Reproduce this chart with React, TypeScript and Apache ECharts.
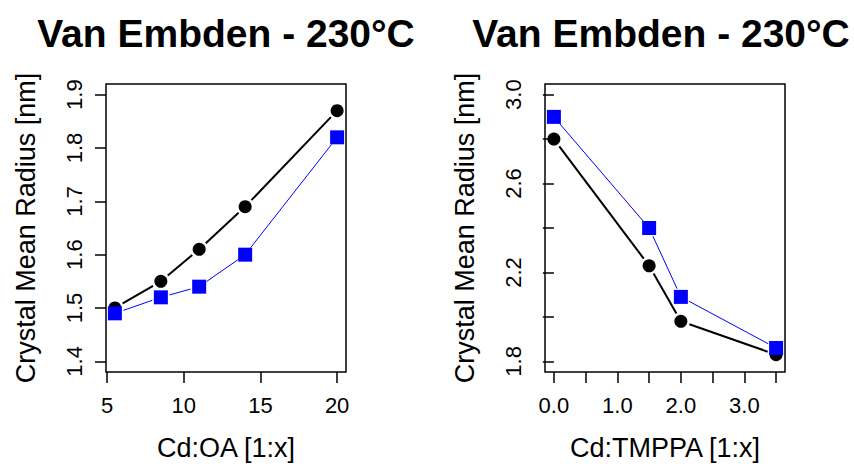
import React, { useEffect, useRef } from "react";
import * as echarts from "echarts";

const leftX = [5.5, 8.5, 11, 14, 20];
const leftBlack = [1.5, 1.55, 1.61, 1.69, 1.87];
const leftBlue = [1.49, 1.52, 1.54, 1.6, 1.82];

const rightX = [0, 1.5, 2.0, 3.5];
const rightBlack = [2.8, 2.23, 1.98, 1.83];
const rightBlue = [2.9, 2.4, 2.09, 1.86];

const leftXTicks = [5, 10, 15, 20];
const leftYTicks = [1.4, 1.5, 1.6, 1.7, 1.8, 1.9];
const rightXTicks = [0, 0.5, 1.0, 1.5, 2.0, 2.5, 3.0, 3.5];
const rightXLabels = [0, 1.0, 2.0, 3.0];
const rightYTicks = [1.8, 2.0, 2.2, 2.4, 2.6, 2.8, 3.0];
const rightYLabels = [1.8, 2.2, 2.6, 3.0];

const titleText = "Van Embden - 230°C";
const yName = "Crystal Mean Radius [nm]";
const leftXName = "Cd:OA [1:x]";
const rightXName = "Cd:TMPPA [1:x]";

const FONT = '"Liberation Sans", Arial, Helvetica, sans-serif';
const BLUE = "#0000ff";
const GAP = 9;

function pairs(xs: number[], ys: number[]) {
  return xs.map((x, i) => [x, ys[i]]);
}

function gapLine(xs: number[], ys: number[], color: string, width: number, idx: number, z: number) {
  return {
    type: "custom",
    xAxisIndex: idx,
    yAxisIndex: idx,
    z,
    silent: true,
    data: pairs(xs, ys),
    renderItem: (params: any, api: any) => {
      const i = params.dataIndex;
      if (i >= xs.length - 1) return null;
      const p0 = api.coord([xs[i], ys[i]]);
      const p1 = api.coord([xs[i + 1], ys[i + 1]]);
      const dx = p1[0] - p0[0];
      const dy = p1[1] - p0[1];
      const len = Math.sqrt(dx * dx + dy * dy);
      if (len <= 2 * GAP) return null;
      const ux = dx / len;
      const uy = dy / len;
      return {
        type: "line",
        shape: {
          x1: p0[0] + ux * GAP,
          y1: p0[1] + uy * GAP,
          x2: p1[0] - ux * GAP,
          y2: p1[1] - uy * GAP,
        },
        style: { stroke: color, lineWidth: width },
      };
    },
  };
}

function points(xs: number[], ys: number[], symbol: string, size: number, color: string, idx: number, z: number) {
  return {
    type: "scatter",
    xAxisIndex: idx,
    yAxisIndex: idx,
    z,
    symbol,
    symbolSize: size,
    itemStyle: { color, opacity: 1 },
    data: pairs(xs, ys),
  };
}

function xAxis(idx: number, min: number, max: number, ticks: number[], labels: number[], fmt: (v: number) => string, name: string) {
  return {
    type: "value",
    gridIndex: idx,
    min,
    max,
    splitLine: { show: false },
    axisLine: { show: false },
    axisTick: { show: true, length: 11, customValues: ticks, lineStyle: { color: "#000", width: 1.5 } },
    axisLabel: {
      customValues: labels,
      formatter: (v: number) => fmt(v),
      color: "#000",
      fontSize: 22,
      fontFamily: FONT,
      margin: 22,
    },
    name,
    nameLocation: "middle",
    nameGap: 62,
    nameTextStyle: { color: "#000", fontSize: 27, fontFamily: FONT },
  };
}

function yAxis(idx: number, min: number, max: number, ticks: number[], labels: number[], name: string) {
  return {
    type: "value",
    gridIndex: idx,
    min,
    max,
    splitLine: { show: false },
    axisLine: { show: false },
    axisTick: { show: true, length: 11, customValues: ticks, lineStyle: { color: "#000", width: 1.5 } },
    axisLabel: {
      customValues: labels,
      formatter: (v: number) => v.toFixed(1),
      color: "#000",
      fontSize: 22,
      fontFamily: FONT,
      rotate: 90,
      margin: 21,
    },
    name,
    nameLocation: "middle",
    nameGap: 67,
    nameTextStyle: { color: "#000", fontSize: 27, fontFamily: FONT },
  };
}

export default function App() {
  const ref = useRef<HTMLDivElement>(null);
  useEffect(() => {
    if (!ref.current) return;
    const chart = echarts.init(ref.current, null, { renderer: "svg" });
    chart.setOption({
      animation: false,
      backgroundColor: "#fff",
      grid: [
        { left: 106, right: 508, top: 84, bottom: 92, show: true, borderColor: "#000", borderWidth: 1.5, backgroundColor: "transparent" },
        { left: 545, right: 69, top: 84, bottom: 92, show: true, borderColor: "#000", borderWidth: 1.5, backgroundColor: "transparent" },
      ],
      xAxis: [
        xAxis(0, 4.92, 20.58, leftXTicks, leftXTicks, (v) => String(v), leftXName),
        xAxis(1, -0.14, 3.64, rightXTicks, rightXLabels, (v) => v.toFixed(1), rightXName),
      ],
      yAxis: [
        yAxis(0, 1.38, 1.92, leftYTicks, leftYTicks, yName),
        yAxis(1, 1.752, 3.048, rightYTicks, rightYLabels, yName),
      ],
      graphic: [
        {
          type: "text",
          x: 226,
          y: 14,
          style: { text: titleText, font: `bold 39px ${FONT}`, fill: "#000", textAlign: "center", textVerticalAlign: "top" },
        },
        {
          type: "text",
          x: 661,
          y: 14,
          style: { text: titleText, font: `bold 39px ${FONT}`, fill: "#000", textAlign: "center", textVerticalAlign: "top" },
        },
      ],
      series: [
        gapLine(leftX, leftBlack, "#000", 2, 0, 2),
        points(leftX, leftBlack, "circle", 13, "#000", 0, 3),
        gapLine(leftX, leftBlue, BLUE, 1, 0, 4),
        points(leftX, leftBlue, "rect", 14, BLUE, 0, 5),
        gapLine(rightX, rightBlack, "#000", 2, 1, 2),
        points(rightX, rightBlack, "circle", 13, "#000", 1, 3),
        gapLine(rightX, rightBlue, BLUE, 1, 1, 4),
        points(rightX, rightBlue, "rect", 14, BLUE, 1, 5),
      ],
    });
    return () => chart.dispose();
  }, []);
  return <div ref={ref} style={{ width: 854, height: 466, position: "absolute", left: 0, top: 0 }} />;
}
